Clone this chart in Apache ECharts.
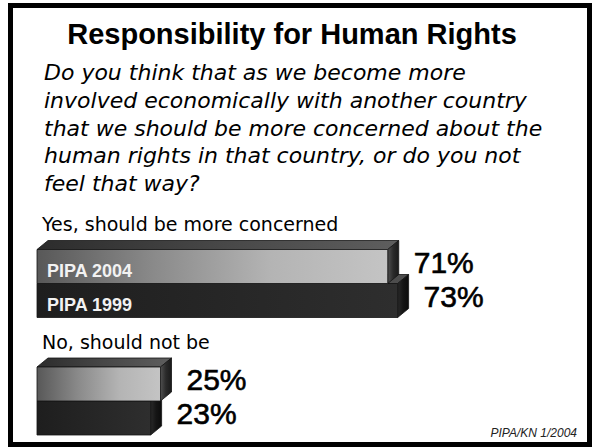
<!DOCTYPE html>
<html>
<head>
<meta charset="utf-8">
<script src="https://cdn.jsdelivr.net/npm/echarts@6/dist/echarts.min.js"></script>
<style>
  html, body { margin: 0; padding: 0; background: #ffffff; }
  #chart { width: 592px; height: 448px; }
</style>
</head>
<body>
<div id="chart"></div>
<script>
// ---- data ----
const titleText = 'Responsibility for Human Rights';
const questionLines = [
  'Do you think that as we become more',
  'involved economically with another country',
  'that we should be more concerned about the',
  'human rights in that country, or do you not',
  'feel that way?'
];
const categories = ['Yes, should be more concerned', 'No, should not be'];
const seriesNames = ['PIPA 2004', 'PIPA 1999'];
const values2004 = [71, 25];
const values1999 = [73, 23];
const valueSuffix = '%';
const sourceText = 'PIPA/KN 1/2004';

// ---- styling ----
const BAR_H = 34, DX = 11, DY = -9;
const G = (x2, y2, stops) => new echarts.graphic.LinearGradient(0, 0, x2, y2,
  stops.map((c, k) => ({ offset: k / (stops.length - 1), color: c })));
const palettes = [
  { // 2004
    front: () => G(1, 0, ['#585858', '#8a8a8a', '#b4b4b4', '#c4c4c4']),
    top: () => G(1, 0, ['#2c2c2c', '#474747', '#5e5e5e']),
    side: () => G(1, 0, ['#505050', '#2a2a2a', '#1a1a1a'])
  },
  { // 1999
    front: () => G(1, 0, ['#1e1e1e', '#262626', '#2e2e2e']),
    top: () => G(1, 0, ['#2a2a2a', '#3c3c3c', '#4e4e4e']),
    side: () => G(1, 0, ['#2a2a2a', '#151515', '#0c0c0c'])
  }
];

function makeRender(which) {
  return function (params, api) {
    const i = params.dataIndex;
    const val = api.value(0);
    const cat = api.value(1);
    const p0 = api.coord([0, cat]);
    const p1 = api.coord([val, cat]);
    const x0 = p0[0], x1 = p1[0], yc = p0[1];
    const top = which === 0 ? yc - BAR_H : yc;
    const bot = top + BAR_H;
    const pal = palettes[which];
    const edge = { stroke: '#141414', lineWidth: 0.8 };
    const children = [
      { type: 'polygon', shape: { points: [[x0, top], [x0 + DX, top + DY], [x1 + DX, top + DY], [x1, top]] },
        style: Object.assign({ fill: pal.top() }, edge) },
      { type: 'polygon', shape: { points: [[x1, top], [x1 + DX, top + DY], [x1 + DX, bot + DY], [x1, bot]] },
        style: Object.assign({ fill: pal.side() }, edge) },
      { type: 'rect', shape: { x: x0, y: top, width: x1 - x0, height: BAR_H },
        style: Object.assign({ fill: pal.front() }, edge) },
      { type: 'text', style: { text: val + valueSuffix, x: x1 + 26, y: (top + bot) / 2 - 4.5,
        fill: '#000', stroke: '#000', lineWidth: 0.6,
        font: '30px "Liberation Sans", Arial, sans-serif', align: 'left', verticalAlign: 'middle' } }
    ];
    if (i === 0) {
      children.push({ type: 'text', style: { text: seriesNames[which], x: x0 + 10, y: (top + bot) / 2 + 4,
        fill: '#f2f2f2', font: 'bold 18px "Liberation Sans", Arial, sans-serif', align: 'left', verticalAlign: 'middle' } });
    }
    if (which === 0) {
      children.push({ type: 'text', style: { text: categories[cat], x: x0 + 5, y: yc - 59.5,
        fill: '#000', font: '19px "DejaVu Sans", sans-serif', align: 'left', verticalAlign: 'middle' } });
    }
    return { type: 'group', children: children };
  };
}

const chart = echarts.init(document.getElementById('chart'), null, { renderer: 'svg', width: 592, height: 448 });
chart.setOption({
  animation: false,
  backgroundColor: '#ffffff',
  grid: { left: 37, right: 61, top: 283.5, bottom: 47 },
  xAxis: { type: 'value', min: 0, max: 100, show: false },
  yAxis: { type: 'category', data: categories, inverse: true, boundaryGap: false, show: false },
  graphic: [
    { type: 'rect', shape: { x: 10.5, y: 5.5, width: 579, height: 439 },
      style: { fill: 'transparent', stroke: '#000', lineWidth: 5 }, z: 100 },
    { type: 'text', style: { text: titleText, x: 292, y: 34, fill: '#000',
      font: 'bold 29px "Liberation Sans", Arial, sans-serif', align: 'center', verticalAlign: 'middle' } },
    { type: 'text', style: { text: questionLines.join('\n'), x: 44, y: 58.6, lineHeight: 27.8, fill: '#000',
      font: 'italic 22px "DejaVu Sans", sans-serif', align: 'left', verticalAlign: 'top' } },
    { type: 'text', style: { text: sourceText, x: 577, y: 433.3, fill: '#222',
      font: 'italic 12px "Liberation Sans", Arial, sans-serif', align: 'right', verticalAlign: 'middle' } }
  ],
  series: [
    { name: seriesNames[1], type: 'custom', z: 2, renderItem: makeRender(1),
      encode: { x: 0, y: 1 }, data: values1999.map((v, i) => [v, i]) },
    { name: seriesNames[0], type: 'custom', z: 3, renderItem: makeRender(0),
      encode: { x: 0, y: 1 }, data: values2004.map((v, i) => [v, i]) }
  ]
});
</script>
</body>
</html>
